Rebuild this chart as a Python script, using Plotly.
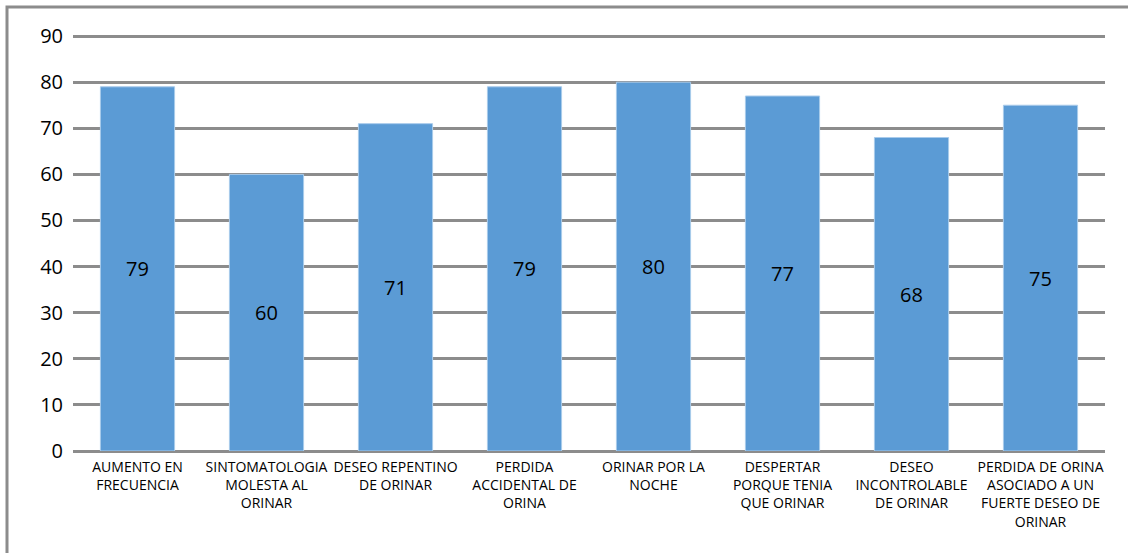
import plotly.graph_objects as go

categories = [
    "AUMENTO EN<br>FRECUENCIA",
    "SINTOMATOLOGIA<br>MOLESTA AL<br>ORINAR",
    "DESEO REPENTINO<br>DE ORINAR",
    "PERDIDA<br>ACCIDENTAL DE<br>ORINA",
    "ORINAR POR LA<br>NOCHE",
    "DESPERTAR<br>PORQUE TENIA<br>QUE ORINAR",
    "DESEO<br>INCONTROLABLE<br>DE ORINAR",
    "PERDIDA DE ORINA<br>ASOCIADO A UN<br>FUERTE DESEO DE<br>ORINAR",
]
values = [79, 60, 71, 79, 80, 77, 68, 75]
y_ticks = [0, 10, 20, 30, 40, 50, 60, 70, 80, 90]

fig = go.Figure(go.Bar(
    x=categories, y=values,
    text=[str(v) for v in values],
    textposition="inside", insidetextanchor="middle",
    textfont=dict(size=20, color="#000000", family="Open Sans"),
    marker=dict(color="#5B9BD5", line=dict(color="#A9CBEB", width=1)),
    width=0.575,
))

L, R, T, B = 73, 23, 34, 102
W, H = 1128, 553
pw, ph = W - L - R, H - T - B

fig.update_layout(
    width=W, height=H,
    margin=dict(l=L, r=R, t=T, b=B),
    paper_bgcolor="white", plot_bgcolor="white",
    showlegend=False,
    font=dict(family="Open Sans", color="#000000"),
    xaxis=dict(tickfont=dict(size=14, family="Open Sans", color="#000000"),
               showgrid=False, showline=False, ticks="", ticklabelstandoff=6),
    yaxis=dict(range=[0, 90.45], tickvals=y_ticks,
               tickfont=dict(size=20, family="Open Sans", color="#000000"),
               showgrid=True, gridcolor="#8C8C8C", gridwidth=2.5,
               zeroline=True, zerolinecolor="#8C8C8C", zerolinewidth=3,
               showline=False, ticks="", ticklabelstandoff=9),
    shapes=[dict(type="rect", xref="paper", yref="paper",
                 x0=(7 - L) / pw, x1=1.3, y0=-0.6, y1=(H - B - 7) / ph,
                 line=dict(color="#8C8C8C", width=3), layer="below")],
)

fig.write_html("out.html")
